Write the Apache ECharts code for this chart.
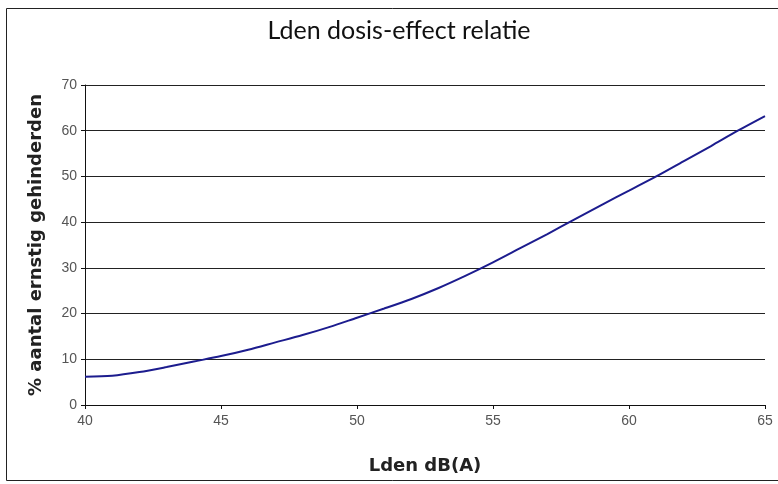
<!DOCTYPE html>
<html>
<head>
<meta charset="utf-8">
<script src="https://cdn.jsdelivr.net/npm/echarts@6/dist/echarts.min.js"></script>
<style>html,body{margin:0;padding:0;background:#fff}#c{width:778px;height:484px}</style>
</head>
<body>
<div id="c"></div>
<script>
var xValues = [40,41,42,43,44,45,46,47,48,49,50,51,52,53,54,55,56,57,58,59,60,61,62,63,64,65];
var yValues = [6.2,6.4,7.2,8.3,9.5,10.7,12.1,13.7,15.3,17.1,19.1,21.1,23.2,25.6,28.3,31.2,34.3,37.4,40.6,43.8,46.9,50.0,53.3,56.6,60.0,63.2];
var titleText = 'Lden dosis-effect relatie';
var xName = 'Lden dB(A)';
var yName = '% aantal ernstig gehinderden';

var chart = echarts.init(document.getElementById('c'));
var pts = xValues.map(function(x,i){return [x, yValues[i]];});
chart.setOption({
  animation:false,
  graphic:[
    {type:'rect',shape:{x:6.5,y:8.5,width:790,height:472},style:{fill:null,stroke:'#222',lineWidth:1}},
    {type:'text',x:399,y:31,style:{text:titleText,font:'25px Lato',fill:'#111',align:'center',verticalAlign:'middle'}}
  ],
  grid:{left:85,right:13,top:85,bottom:79},
  xAxis:{type:'value',min:40,max:65,interval:5,
    name:xName,nameLocation:'middle',nameGap:52,
    nameTextStyle:{fontFamily:'DejaVu Sans',fontWeight:'bold',fontSize:18,color:'#222'},
    axisLine:{lineStyle:{color:'#111',width:1}},
    axisTick:{show:true,length:4,lineStyle:{color:'#111'}},
    axisLabel:{fontFamily:'Liberation Sans, Arial',fontSize:14,color:'#555',margin:9},
    splitLine:{show:false}},
  yAxis:{type:'value',min:0,max:70,interval:10,
    name:yName,nameLocation:'middle',nameGap:40,nameRotate:90,
    nameTextStyle:{fontFamily:'DejaVu Sans',fontWeight:'bold',fontSize:18,color:'#222'},
    axisLine:{show:true,lineStyle:{color:'#111',width:1}},
    axisTick:{show:true,length:4,lineStyle:{color:'#111'}},
    axisLabel:{fontFamily:'Liberation Sans, Arial',fontSize:14,color:'#555',margin:8},
    splitLine:{show:true,lineStyle:{color:'#222',width:1}}},
  series:[{type:'line',data:pts,showSymbol:false,symbol:'none',smooth:0.3,
    lineStyle:{color:'#1c1c8e',width:2}}]
});
</script>
</body>
</html>
